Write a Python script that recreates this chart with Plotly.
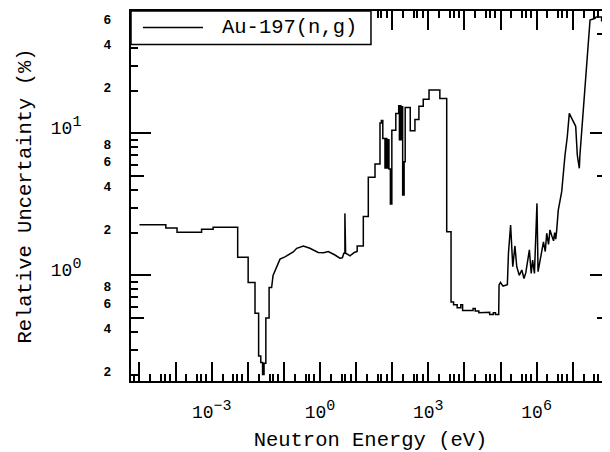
import plotly.graph_objects as go

# ---- data (log10 of neutron energy in eV, relative uncertainty in %) ----
energy_log10 = [
    -5.0, -4.27, -4.27, -3.96, -3.96, -3.28, -3.28, -2.96, -2.96, -2.28,
    -2.28, -1.99, -1.99, -1.80, -1.80, -1.70, -1.70, -1.64, -1.64, -1.59,
    -1.59, -1.55, -1.55, -1.50, -1.50, -1.41, -1.41, -1.34, -1.30, -1.20,
    -1.108, -0.97, -0.83, -0.74, -0.645, -0.46, -0.28, -0.15, -0.05, 0.10,
    0.23, 0.415, 0.55, 0.62, 0.66, 0.69, 0.69, 0.71, 0.71, 0.78,
    0.83, 0.95, 1.03, 1.03, 1.20, 1.20, 1.338, 1.338, 1.524, 1.524,
    1.662, 1.662, 1.70, 1.70, 1.74, 1.74, 1.80, 1.80, 1.82, 1.82,
    1.85, 1.85, 1.87, 1.87, 1.91, 1.91, 1.95, 1.95, 1.99, 1.99,
    2.10, 2.10, 2.18, 2.18, 2.20, 2.20, 2.22, 2.22, 2.24, 2.24,
    2.26, 2.26, 2.29, 2.29, 2.33, 2.33, 2.36, 2.36, 2.50, 2.50,
    2.63, 2.63, 2.74, 2.74, 2.86, 2.86, 3.02, 3.02, 3.32, 3.32,
    3.51, 3.51, 3.63, 3.63, 3.70, 3.70, 3.80, 3.80, 3.90, 3.90,
    3.95, 3.95, 4.24, 4.24, 4.30, 4.30, 4.40, 4.40, 4.62, 4.62,
    4.70, 4.70, 4.80, 4.80, 4.86, 4.86, 4.95, 4.96, 5.00, 5.07,
    5.19, 5.22, 5.28, 5.34, 5.40, 5.45, 5.52, 5.59, 5.65, 5.70,
    5.74, 5.80, 5.85, 5.89, 5.94, 5.98, 6.01, 6.04, 6.10, 6.15,
    6.19, 6.24, 6.28, 6.33, 6.37, 6.42, 6.47, 6.50, 6.53, 6.557,
    6.60, 6.695, 6.74, 6.787, 6.85, 6.906, 6.97, 7.017, 7.083, 7.127,
    7.183, 7.20, 7.25, 7.29, 7.34, 7.388, 7.43, 7.48, 7.62, 7.65,
    7.80, 7.80, 7.88, 7.88, 8.05,
]
uncertainty_pct = [
    2.27, 2.27, 2.15, 2.15, 2.01, 2.01, 2.11, 2.11, 2.18, 2.18,
    1.34, 1.34, 0.89, 0.89, 0.54, 0.54, 0.27, 0.27, 0.243, 0.243,
    0.20, 0.20, 0.24, 0.24, 0.50, 0.50, 0.82, 0.82, 1.00, 1.16,
    1.30, 1.35, 1.42, 1.46, 1.55, 1.61, 1.55, 1.50, 1.45, 1.44,
    1.47, 1.39, 1.32, 1.33, 1.43, 1.43, 2.73, 2.73, 1.43, 1.40,
    1.37, 1.45, 1.47, 1.61, 1.61, 2.59, 2.59, 4.9, 4.9, 6.08,
    6.08, 11.8, 11.8, 12.3, 12.3, 9.2, 9.2, 5.7, 5.7, 9.2,
    9.2, 5.7, 5.7, 9.0, 9.0, 5.6, 5.6, 3.18, 3.18, 10.5,
    10.5, 13.8, 13.8, 15.6, 15.6, 9.0, 9.0, 15.6, 15.6, 9.0,
    9.0, 15.4, 15.4, 3.67, 3.67, 6.3, 6.3, 15.2, 15.2, 10.4,
    10.4, 12.5, 12.5, 15.5, 15.5, 17.4, 17.4, 20.2, 20.2, 17.6,
    17.6, 2.03, 2.03, 0.65, 0.65, 0.62, 0.62, 0.59, 0.59, 0.62,
    0.62, 0.565, 0.565, 0.585, 0.585, 0.56, 0.56, 0.545, 0.545, 0.55,
    0.55, 0.53, 0.53, 0.545, 0.545, 0.53, 0.53, 0.855, 0.89, 0.84,
    0.86, 1.43, 2.26, 1.15, 1.61, 1.15, 1.00, 1.09, 0.95, 1.04,
    1.21, 1.51, 1.03, 1.28, 1.03, 2.14, 3.21, 1.06, 1.28, 1.59,
    1.72, 1.47, 1.98, 1.65, 2.09, 1.90, 1.75, 2.00, 1.80, 2.08,
    2.88, 3.88, 5.23, 7.03, 9.46, 13.8, 12.8, 12.1, 11.2, 7.03,
    5.67, 7.03, 10.5, 14.6, 20.2, 29.4, 43.0, 62.8, 64.5, 66.0,
    66.0, 62.0, 62.0, 68.0, 68.0,
]
energy_eV = [10 ** v for v in energy_log10]

series_name = "Au-197(n,g)"
x_title = "Neutron Energy (eV)"
y_title = "Relative Uncertainty (%)"

x_decades = list(range(-6, 9))
x_label_exponents = [-3, 0, 3, 6]
x_minor_digits = [2, 4, 5, 7]

y_label_exponents = [0, 1]
y_mantissa_vals = [0.2, 0.4, 0.6, 0.8, 2, 4, 6, 8, 20, 40, 60]
y_mantissa_text = ["2", "4", "6", "8", "2", "4", "6", "8", "2", "4", "6"]
y_decades = [-1, 0, 1, 2]
y_minor_digits = [2, 3, 4, 6, 7, 8, 9]
y_mid_digit = 5

X_RANGE = [-5.235, 8.033]
Y_RANGE = [-0.744, 1.861]

MONO = "Liberation Mono"


def power_label(exp):
    txt = str(exp).replace("-", "\u2212")
    return "10<sup><span style=\"font-size:15px\">" + txt + "</span></sup>"


x_tickvals = [10.0 ** d for d in x_decades]
x_labelvals = [10.0 ** d for d in x_label_exponents]
x_labeltext = [power_label(d) for d in x_label_exponents]
x_minor = [k * 10.0 ** d for d in x_decades for k in x_minor_digits]
y_tickvals = [10.0 ** d for d in y_label_exponents]
y_ticktext = [power_label(d) for d in y_label_exponents]
y_minor = [k * 10.0 ** d for d in y_decades for k in y_minor_digits]
y_mid = [y_mid_digit * 10.0 ** d for d in y_decades]

fig = go.Figure()
fig.add_trace(go.Scatter(
    x=energy_eV, y=uncertainty_pct, mode="lines", name=series_name,
    line=dict(color="black", width=1.5), showlegend=False,
))
# invisible carriers so that the overlay axes (medium ticks, labels) are drawn
for xa, ya in (("x", "y2"), ("x", "y3"), ("x2", "y")):
    fig.add_trace(go.Scatter(
        x=[energy_eV[0]], y=[uncertainty_pct[0]], xaxis=xa, yaxis=ya, mode="markers",
        marker=dict(opacity=0), showlegend=False, hoverinfo="skip",
    ))

common_axis = dict(showgrid=False, zeroline=False, color="black", automargin=False)

# legend box (drawn like the reference: box at the top-left corner of the frame)
LEG_X1 = 0.501
LEG_Y0 = 0.9095
LEG_LINE_Y = 0.9554
shapes = [
    dict(type="rect", xref="paper", yref="paper", x0=0, x1=LEG_X1, y0=LEG_Y0, y1=1,
         line=dict(color="black", width=1.5), fillcolor="white", layer="above"),
    dict(type="line", xref="paper", yref="paper", x0=0.025, x1=0.1503,
         y0=LEG_LINE_Y, y1=LEG_LINE_Y, line=dict(color="black", width=1.5), layer="above"),
]
annotations = [
    dict(text=series_name, xref="paper", yref="paper", x=0.1858, y=LEG_LINE_Y,
         xanchor="left", yanchor="middle", showarrow=False,
         font=dict(family=MONO, size=20.5, color="black")),
]

fig.update_layout(
    template="none",
    width=602, height=444,
    margin=dict(l=123, r=0, t=3, b=71, pad=0),
    paper_bgcolor="white", plot_bgcolor="white",
    font=dict(family=MONO, color="black"),
    showlegend=False,
    shapes=shapes, annotations=annotations,
    xaxis=dict(
        **common_axis, type="log", range=X_RANGE,
        showline=True, linecolor="black", linewidth=2, mirror="ticks",
        ticks="inside", ticklen=19, tickwidth=1.5, tickcolor="black",
        tickmode="array", tickvals=x_tickvals, showticklabels=False,
        minor=dict(tickmode="array", tickvals=x_minor, ticks="inside", ticklen=7,
                   tickwidth=1.5, tickcolor="black", showgrid=False),
    ),
    xaxis2=dict(
        **common_axis, type="log", range=X_RANGE, overlaying="x", anchor="y", side="bottom",
        showline=False, ticks="",
        tickmode="array", tickvals=x_labelvals, ticktext=x_labeltext,
        tickfont=dict(family=MONO, size=18), ticklabelstandoff=18,
        title=dict(text=x_title, font=dict(family=MONO, size=20.5), standoff=14),
    ),
    yaxis=dict(
        **common_axis, type="log", range=Y_RANGE,
        showline=True, linecolor="black", linewidth=2, mirror="ticks",
        ticks="inside", ticklen=20, tickwidth=1.5, tickcolor="black",
        tickmode="array", tickvals=y_tickvals, ticktext=y_ticktext,
        tickfont=dict(family=MONO, size=18), ticklabelstandoff=44, ticklabelshift=-6,
        minor=dict(tickmode="array", tickvals=y_minor, ticks="inside", ticklen=7,
                   tickwidth=1.5, tickcolor="black", showgrid=False),
        title=dict(text=y_title, font=dict(family=MONO, size=20.5), standoff=14),
    ),
    yaxis2=dict(
        **common_axis, type="log", range=Y_RANGE, overlaying="y", anchor="x", side="left",
        showline=False, mirror="ticks",
        ticks="inside", ticklen=13, tickwidth=1.5, tickcolor="black",
        tickmode="array", tickvals=y_mid, showticklabels=False,
    ),
    yaxis3=dict(
        **common_axis, type="log", range=Y_RANGE, overlaying="y", anchor="x", side="left",
        showline=False, ticks="",
        tickmode="array", tickvals=y_mantissa_vals, ticktext=y_mantissa_text,
        tickfont=dict(family="Liberation Sans", size=13, weight="bold"),
        ticklabelstandoff=19, ticklabelshift=-3,
    ),
)

fig.write_html("out.html")
